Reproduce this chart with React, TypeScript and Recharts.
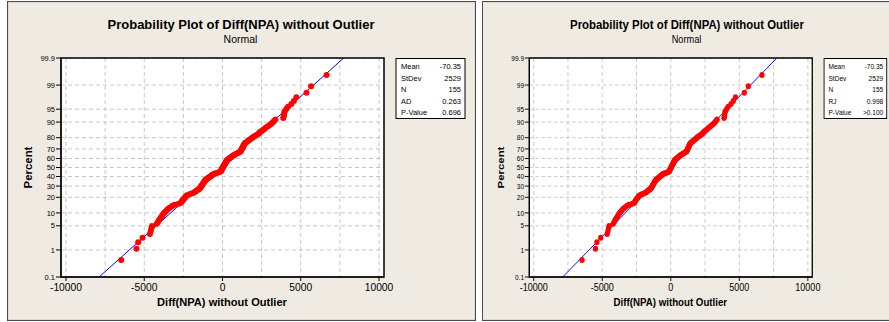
import {
  CartesianGrid,
  ComposedChart,
  ReferenceArea,
  Scatter,
  XAxis,
  YAxis,
} from "recharts";

// sorted Diff(NPA) values (n = 155)
const DIFF_NPA = [
  -6473, -5495, -5387, -5112, -4640, -4585, -4540, -4500, -4200, -4125,
  -4058, -3982, -3913, -3848, -3786, -3718, -3636, -3558, -3483, -3402,
  -3291, -3188, -3050, -2812, -2667, -2624, -2584, -2545, -2505, -2455,
  -2405, -2356, -2317, -2263, -2142, -2015, -1887, -1794, -1727, -1663,
  -1600, -1537, -1475, -1432, -1404, -1375, -1348, -1319, -1292, -1265,
  -1237, -1210, -1184, -1157, -1131, -1105, -1070, -1017, -964, -911,
  -858, -807, -754, -704, -651, -600, -540, -426, -312, -192,
  -119, -100, -80, -61, -40, -20, -1, 19,
  38, 59, 81, 103, 125, 146, 168, 189, 212, 234,
  255, 278, 301, 353, 401, 453, 502, 554, 605, 657,
  709, 779, 852, 924, 1001, 1073, 1150, 1171, 1192, 1213,
  1236, 1257, 1279, 1301, 1324, 1347, 1370, 1393, 1416, 1475,
  1539, 1603, 1667, 1734, 1802, 1869, 1939, 2015, 2101, 2195,
  2289, 2347, 2405, 2474, 2559, 2647, 2736, 2830, 2927, 3032,
  3141, 3222, 3293, 3380, 3880, 3912, 3928, 3946, 3977, 4080,
  4190, 4398, 4562, 4720, 5368, 5660, 6650,
];

const MEAN = -70.35;
const STDEV = 2529;

const PCT_TICKS = [0.1, 1, 5, 10, 20, 30, 40, 50, 60, 70, 80, 90, 95, 99, 99.9];
const X_TICKS = [-10000, -5000, 0, 5000, 10000];
const X_GRID = [-10000, -7500, -5000, -2500, 0, 2500, 5000, 7500, 10000];

const LEFT_STATS = [
  ["Mean", "-70.35"],
  ["StDev", "2529"],
  ["N", "155"],
  ["AD", "0.263"],
  ["P-Value", "0.696"],
];
const RIGHT_STATS = [
  ["Mean", "-70.35"],
  ["StDev", "2529"],
  ["N", "155"],
  ["RJ", "0.998"],
  ["P-Value", ">0.100"],
];

const FONT = "'Liberation Sans', Arial, sans-serif";
const PANEL_BG = "#efebe2";

// inverse normal cdf (Acklam) - the percent axis is a normal probability scale
function probit(p: number): number {
  const a = [-39.69683028665376, 220.9460984245205, -275.9285104469687, 138.357751867269, -30.66479806614716, 2.506628277459239];
  const b = [-54.47609879822406, 161.5858368580409, -155.6989798598866, 66.80131188771972, -13.28068155288572];
  const c = [-0.007784894002430293, -0.3223964580411365, -2.400758277161838, -2.549732539343734, 4.374664141464968, 2.938163982698783];
  const d = [0.007784695709041462, 0.3224671290700398, 2.445134137142996, 3.754408661907416];
  const tail = (q: number) =>
    (((((c[0] * q + c[1]) * q + c[2]) * q + c[3]) * q + c[4]) * q + c[5]) /
    ((((d[0] * q + d[1]) * q + d[2]) * q + d[3]) * q + 1);
  if (p < 0.02425) return tail(Math.sqrt(-2 * Math.log(p)));
  if (p > 1 - 0.02425) return -tail(Math.sqrt(-2 * Math.log(1 - p)));
  const q = p - 0.5;
  const r = q * q;
  return (
    ((((((a[0] * r + a[1]) * r + a[2]) * r + a[3]) * r + a[4]) * r + a[5]) * q) /
    (((((b[0] * r + b[1]) * r + b[2]) * r + b[3]) * r + b[4]) * r + 1)
  );
}

const Y_TICKS = PCT_TICKS.map((p) => probit(p / 100));
const Z_MIN = Y_TICKS[0];
const Z_MAX = Y_TICKS[Y_TICKS.length - 1];
const N = DIFF_NPA.length;

// median ranks, like Minitab's default plotting positions
const points = DIFF_NPA.map((x, i) => ({ x, z: probit((i + 1 - 0.3) / (N + 0.4)) }));
const fit = [
  { x: MEAN + STDEV * Z_MIN, z: Z_MIN },
  { x: MEAN + STDEV * Z_MAX, z: Z_MAX },
];

const X_MIN = -10320;
const X_MAX = 10320;

const RedDot = (props: any) => <circle cx={props.cx} cy={props.cy} r={3} fill="#ff0000" />;
const NoDot = () => <g />;

function pctLabel(v: number) {
  const k = Y_TICKS.findIndex((t) => Math.abs(t - v) < 1e-9);
  return k >= 0 ? String(PCT_TICKS[k]) : "";
}

type PanelProps = {
  left: number;
  scale: number;
  stats: string[][];
  boxX: number;
  boxW: number;
};

function Panel({ left, scale, stats, boxX, boxW }: PanelProps) {
  const W = 469;
  const H = 320;
  return (
    <div
      style={{
        position: "absolute",
        left,
        top: 1,
        width: W,
        height: H,
        background: PANEL_BG,
        transform: `scaleX(${scale})`,
        transformOrigin: "0 0",
      }}
    >
      <div style={{ position: "absolute", left: 0, top: 0 }}>
        <ComposedChart width={W} height={H} margin={{ top: 57, right: 92, bottom: 14, left: 24 }}>
          <CartesianGrid
            fill="#ffffff"
            stroke="#c6c6c6"
            strokeDasharray="4 3"
            verticalValues={X_GRID}
            horizontalValues={Y_TICKS}
          />
          <XAxis
            type="number"
            dataKey="x"
            domain={[X_MIN, X_MAX]}
            ticks={X_TICKS}
            interval={0}
            allowDataOverflow
            height={30}
            tickSize={4}
            tickMargin={3}
            stroke="#000"
            tick={{ fontSize: 10.3, fill: "#000", fontFamily: FONT }}
          />
          <YAxis
            type="number"
            dataKey="z"
            domain={[Z_MIN, Z_MAX]}
            ticks={Y_TICKS}
            interval={0}
            allowDataOverflow
            width={30}
            tickSize={5}
            tickMargin={1}
            stroke="#000"
            tickFormatter={pctLabel}
            tick={{ fontSize: 7.5, fill: "#000", fontFamily: FONT }}
          />
          <ReferenceArea x1={X_MIN} x2={X_MAX} y1={Z_MIN} y2={Z_MAX} fill="none" stroke="#000" strokeWidth={1.5} fillOpacity={0} />
          <Scatter data={fit} line={{ stroke: "#0000ff", strokeWidth: 1 }} shape={NoDot} isAnimationActive={false} />
          <Scatter data={points} shape={RedDot} isAnimationActive={false} />
        </ComposedChart>
      </div>
      <svg
        width={W}
        height={H}
        style={{ position: "absolute", left: 0, top: 0, pointerEvents: "none" }}
        fontFamily={FONT}
      >
        <rect x={0.5} y={0.5} width={W - 1} height={H - 1} fill="none" stroke="#4a4a4a" strokeWidth={1.2} />
        <text x={234} y={28.3} textAnchor="middle" fontSize={13} fontWeight="bold">
          Probability Plot of Diff(NPA) without Outlier
        </text>
        <text x={233.5} y={42} textAnchor="middle" fontSize={10.5}>
          Normal
        </text>
        <text x={215} y={305} textAnchor="middle" fontSize={11.1} fontWeight="bold">
          Diff(NPA) without Outlier
        </text>
        <text x={25} y={166.5} textAnchor="middle" fontSize={11.4} fontWeight="bold" transform="rotate(-90 25 166.5)">
          Percent
        </text>
        <rect x={boxX} y={57.5} width={boxW} height={60} fill="#fff" stroke="#000" strokeWidth={1} />
        {stats.map(([k, v], i) => (
          <g key={k} fontSize={7.5}>
            <text x={boxX + 5} y={68 + i * 11.6}>
              {k}
            </text>
            <text x={boxX + boxW - 4} y={68 + i * 11.6} textAnchor="end">
              {v}
            </text>
          </g>
        ))}
      </svg>
    </div>
  );
}

export default function App() {
  return (
    <div
      style={{
        position: "absolute",
        left: 0,
        top: 0,
        width: 889,
        height: 322,
        background: "#fff",
        overflow: "hidden",
      }}
    >
      <Panel left={7} scale={1} stats={LEFT_STATS} boxX={389} boxW={69} />
      <Panel left={482} scale={0.876} stats={RIGHT_STATS} boxX={390.5} boxW={71.5} />
    </div>
  );
}
